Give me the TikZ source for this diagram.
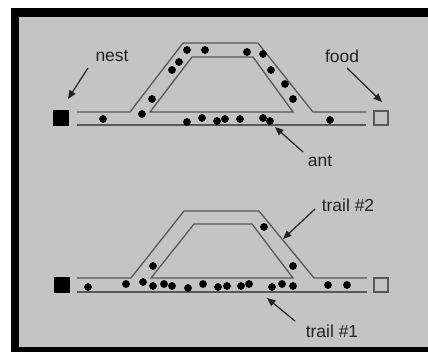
\documentclass[tikz,border=0pt]{standalone}
\usepackage{fontspec}
\setmainfont{Liberation Sans}
\usetikzlibrary{arrows.meta}
\definecolor{bg}{RGB}{196,196,196}
\definecolor{trailc}{RGB}{88,88,88}
\definecolor{inkc}{RGB}{34,34,34}
\tikzset{
  trail/.style={draw=trailc,line width=1.3bp,line join=miter},
  ant/.style={fill=black},
  lbl/.style={inner sep=0pt,text=inkc,font=\fontsize{17.5}{19}\selectfont},
  pointer/.style={draw=inkc,line width=1.2bp,-{Triangle[length=8.5bp,width=7bp]}},
  nestbox/.style={fill=black,minimum size=16bp,inner sep=0pt},
  foodbox/.style={draw=trailc,line width=1.2bp,minimum size=14bp,inner sep=0pt}
}
\newcommand{\antdot}[2]{\fill[ant] (#1,#2) circle (3.9bp);}
\begin{document}
\begin{tikzpicture}[x=1bp,y=-1bp]
\useasboundingbox (0,0) rectangle (428,352);
\fill[white] (0,0) rectangle (428,352);
\fill[black] (11,8) rectangle (428,352);
\fill[bg] (19,17) rectangle (428,347);

% ---------- top diagram ----------
\node[nestbox] (nest1) at (61,118) {};
\node[foodbox] (food1) at (381,118) {};
\draw[trail] (77,112) -- (130,112) -- (183,43) -- (258,43) -- (313,112) -- (366,112);
\draw[trail] (77,125) -- (366,125);
\draw[trail] (150,112) -- (192,57) -- (253,57) -- (293,112) -- cycle;
\foreach \x/\y in {103/119,142/114,152/99,172/70,179/62,187/50,205/50,247/52,263/54,271/70,285/84,293/99,
  187/122,202/118,217/121,225/119,240/119,263/118,270/121,330/120}{\antdot{\x}{\y}}
\node[lbl] (nestlbl) at (112,56) {nest};
\node[lbl] (foodlbl) at (342,56) {food};
\node[lbl] (antlbl) at (320,161) {ant};
\coordinate (p1s) at (88,68);  \coordinate (p1e) at (68,99);
\coordinate (p2s) at (347,68); \coordinate (p2e) at (382,102);
\coordinate (p3s) at (303,152); \coordinate (p3e) at (275,127);
\draw[pointer] (p1s) -- (p1e);
\draw[pointer] (p2s) -- (p2e);
\draw[pointer] (p3s) -- (p3e);

% ---------- bottom diagram ----------
\node[nestbox] (nest2) at (62,285) {};
\node[foodbox] (food2) at (381,285) {};
\begin{scope}[shift={(0,167)}]
\draw[trail] (77,111) -- (131,111) -- (184,44) -- (259,44) -- (314,111) -- (367,111);
\draw[trail] (77,125) -- (367,125);
\draw[trail] (151,111) -- (194,57) -- (252,57) -- (293,111) -- cycle;
\end{scope}
\foreach \x/\y in {88/287,126/284,143/282,153/286,164/284,172/286,188/288,203/284,218/287,227/286,241/286,249/284,
  272/287,282/284,293/286,328/285,347/285,153/266,293/266,264/227}{\antdot{\x}{\y}}
\node[lbl] (t2lbl) at (348,205) {trail \#2};
\node[lbl] (t1lbl) at (332,331) {trail \#1};
\coordinate (p4s) at (315,209); \coordinate (p4e) at (283,239);
\coordinate (p5s) at (295,321); \coordinate (p5e) at (267,298);
\draw[pointer] (p4s) -- (p4e);
\draw[pointer] (p5s) -- (p5e);
\end{tikzpicture}
\end{document}
